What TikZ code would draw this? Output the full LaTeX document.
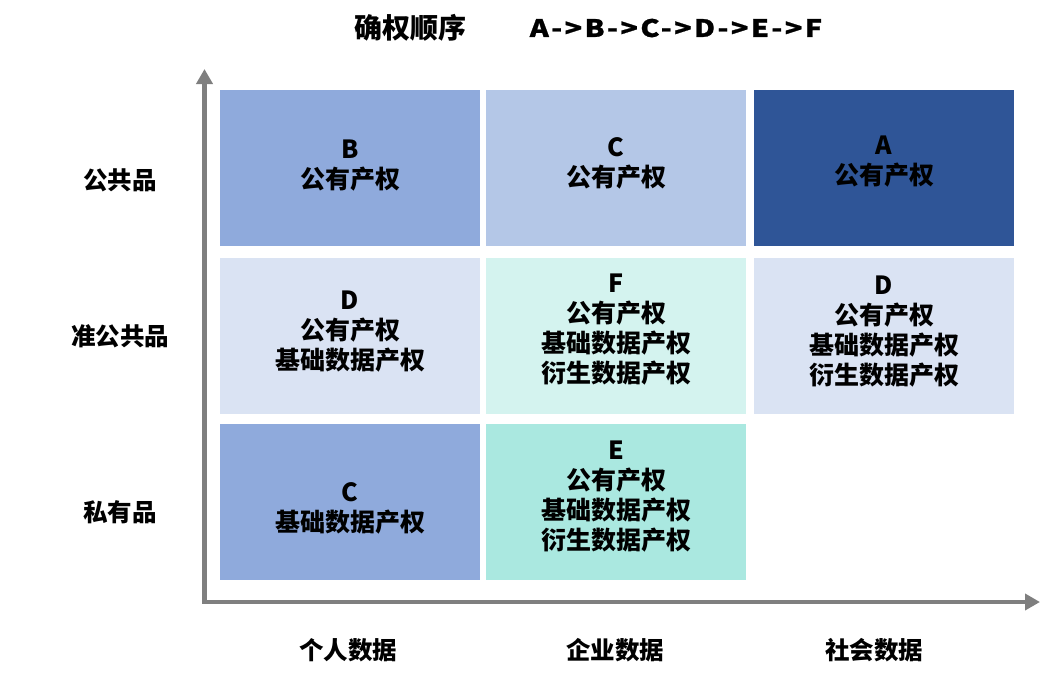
\documentclass[tikz,border=0pt]{standalone}
\usepackage{fontspec}
\setmainfont{Noto Sans CJK SC}
\newcommand\chainfont{\bfseries\fontsize{24}{28}\selectfont\addfontfeatures{FakeStretch=1.2, LetterSpace=10, FakeBold=1}}
\usetikzlibrary{arrows.meta}
\definecolor{axisgray}{RGB}{127, 127, 127}
\definecolor{cornflower}{RGB}{143, 170, 220}
\definecolor{periwinkle}{RGB}{180, 199, 231}
\definecolor{royal}{RGB}{47, 85, 151}
\definecolor{mist}{RGB}{218, 227, 243}
\definecolor{frost}{RGB}{212, 243, 239}
\definecolor{aqua}{RGB}{170, 232, 224}

\tikzset{
  cell/.style={minimum width=260pt, minimum height=156pt, inner sep=0pt},
  celltext/.style={align=center, inner sep=0pt, font=\bfseries\fontsize{25}{30}\selectfont},
  axislabel/.style={font=\bfseries\fontsize{24.5}{30}\selectfont},
  axis/.style={color=axisgray, line width=4.5pt, line join=miter,
               {Triangle[length=15pt, width=16pt]}-{Triangle[length=15pt, width=16pt]}}
}

\begin{document}
\begin{tikzpicture}[x=1pt, y=-1pt]
            % Frame to fix the page
            \useasboundingbox (0, 0) rectangle (1055, 680);
            % Title
            \node[font=\bfseries\fontsize{28}{32}\selectfont] (order) at (410, 28) {确权顺序};
            \node[font=\chainfont]                            (chain) at (676, 28) {A->B->C->D->E->F};
            % Axes
            \coordinate (ytop)   at (204.5,  69);
            \coordinate (origin) at (204.5, 602);
            \coordinate (xend)   at (1040, 602);
            \draw[axis] (ytop) -- (origin) -- (xend);
            % Public goods
            \node[cell, fill=cornflower] (pubperson)  at (350, 168) {};
            \node[cell, fill=periwinkle] (pubfirm)    at (616, 168) {};
            \node[cell, fill=royal]      (pubsociety) at (884, 168) {};
            \node[celltext] at ([yshift=2pt]pubperson.center)  {B\\公有产权};
            \node[celltext] at ([yshift=5pt]pubfirm.center)    {C\\公有产权};
            \node[celltext] at ([yshift=6pt]pubsociety.center) {A\\公有产权};
            % Quasi-public goods
            \node[cell, fill=mist]  (quaperson)  at (350, 336) {};
            \node[cell, fill=frost] (quafirm)    at (616, 336) {};
            \node[cell, fill=mist]  (quasociety) at (884, 336) {};
            \node[celltext] at ([yshift=4pt]quaperson.center)  {D\\公有产权\\基础数据产权};
            \node[celltext] at ([yshift=6pt]quafirm.center)    {F\\公有产权\\基础数据产权\\衍生数据产权};
            \node[celltext] at ([yshift=4pt]quasociety.center) {D\\公有产权\\基础数据产权\\衍生数据产权};
            % Private goods
            \node[cell, fill=cornflower] (priperson) at (350, 502) {};
            \node[cell, fill=aqua]       (prifirm)   at (616, 502) {};
            \node[celltext] at ([yshift=-6pt]priperson.center) {C\\基础数据产权};
            \node[celltext] at ([yshift=5pt]prifirm.center)    {E\\公有产权\\基础数据产权\\衍生数据产权};
            % Row labels
            \node[axislabel] (rowpub) at (120, 180) {公共品};
            \node[axislabel] (rowqua) at (120, 336) {准公共品};
            \node[axislabel] (rowpri) at (120, 512) {私有品};
            % Column labels
            \node[axislabel] (colperson)  at (348, 650) {个人数据};
            \node[axislabel] (colfirm)    at (615, 650) {企业数据};
            \node[axislabel] (colsociety) at (874, 650) {社会数据};
        \end{tikzpicture}
\end{document}
